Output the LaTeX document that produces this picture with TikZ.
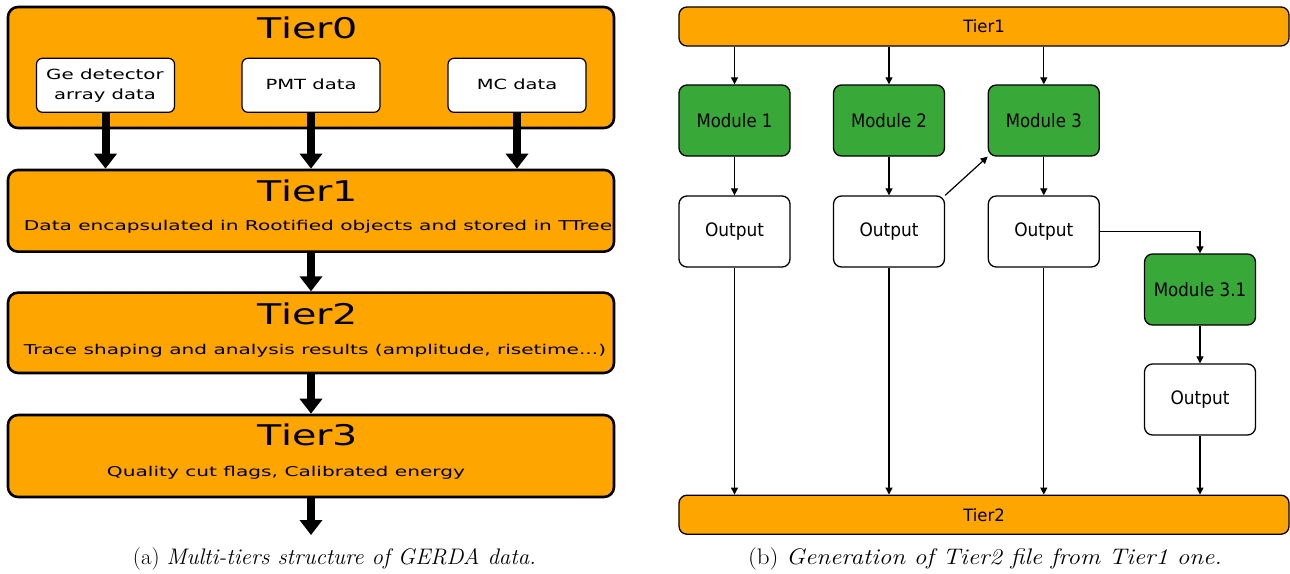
\documentclass[tikz,border=0pt]{standalone}
\usepackage{fontspec}
\usepackage{graphicx}
\usetikzlibrary{arrows.meta}
\newfontfamily\dvs{DejaVu Sans}
\definecolor{tierorange}{HTML}{FFA500}
\definecolor{modgreen}{HTML}{38A938}
\newcommand{\fitw}[2]{\resizebox{#1}{\height}{#2}}
\begin{document}
\begin{tikzpicture}[x=1pt,y=-1pt,
  tierbox/.style={draw=black, line width=2.6pt, fill=tierorange, rounded corners=10pt, minimum width=606pt, minimum height=81pt, inner sep=0pt},
  srcbox/.style={draw=black, line width=1.2pt, fill=white, rounded corners=6pt, minimum width=138pt, minimum height=54pt, inner sep=0pt},
  bigtitle/.style={anchor=base, inner sep=0pt, font=\dvs\fontsize{28.5pt}{30pt}\selectfont},
  subtext/.style={anchor=base, inner sep=0pt, font=\dvs\fontsize{13.5pt}{16pt}\selectfont},
  srctext/.style={anchor=base, inner sep=0pt, font=\dvs\fontsize{14pt}{16pt}\selectfont},
  bigarrow/.style={line width=8pt, -{Triangle[width=22pt,length=15pt]}},
  bar/.style={draw=black, line width=1.3pt, fill=tierorange, rounded corners=8pt, minimum width=610pt, minimum height=39pt, inner sep=0pt, font=\dvs\fontsize{17pt}{19pt}\selectfont},
  modbox/.style={draw=black, line width=1.3pt, fill=modgreen, rounded corners=8pt, minimum width=111pt, minimum height=71pt, inner sep=0pt, font=\dvs\fontsize{18.5pt}{20pt}\selectfont},
  outbox/.style={modbox, fill=white},
  flow/.style={line width=1.2pt, -{Triangle[width=7pt,length=7pt]}},
  captext/.style={anchor=base, inner sep=0pt, font=\fontsize{22.5pt}{26pt}\selectfont}
]
\useasboundingbox (0,0) rectangle (1290,573);

% ---------- left: multi-tier structure ----------
\node[tierbox, minimum height=121pt] (t0) at (311,67.5) {};
\node[bigtitle] (t0t) at (308,38.4) {\fitw{100pt}{Tier0}};
\node[srcbox] (ge) at (105.5,85.3) {};
\node[srctext] (get1) at (105,79) {\fitw{117.6pt}{Ge detector}};
\node[srctext] (get2) at (105,99) {\fitw{101.6pt}{array data}};
\node[srcbox] (pmt) at (311,85.3) {};
\node[srctext] (pmtt) at (311,89.3) {\fitw{91pt}{PMT data}};
\node[srcbox] (mc) at (517,85.3) {};
\node[srctext] (mct) at (517,89.3) {\fitw{80.5pt}{MC data}};

\node[tierbox, minimum height=81.7pt] (t1) at (311,210.8) {};
\node[bigtitle] (t1t) at (308,201.7) {\fitw{100pt}{Tier1}};
\node[subtext] (t1s) at (318,230.7) {\fitw{588pt}{Data encapsulated in Rootified objects and stored in TTree}};

\node[tierbox, minimum height=80.3pt] (t2) at (311,332.8) {};
\node[bigtitle] (t2t) at (308,324) {\fitw{100pt}{Tier2}};
\node[subtext] (t2s) at (315,354) {\fitw{582pt}{Trace shaping and analysis results (amplitude, risetime...)}};

\node[tierbox, minimum height=82pt] (t3) at (311,456) {};
\node[bigtitle] (t3t) at (308,445.7) {\fitw{100pt}{Tier3}};
\node[subtext] (t3s) at (286,476.7) {\fitw{358pt}{Quality cut flags, Calibrated energy}};

\coordinate (endA) at (311,535);

\draw[bigarrow] (ge.south) -- (ge.south |- t1.north);
\draw[bigarrow] (pmt.south) -- (pmt.south |- t1.north);
\draw[bigarrow] (mc.south) -- (mc.south |- t1.north);
\draw[bigarrow] (t1.south) -- (t2.north);
\draw[bigarrow] (t2.south) -- (t3.north);
\draw[bigarrow] (t3.south) -- (endA);

% ---------- right: Tier2 generation ----------
\node[bar] (r1) at (984,26.5) {\fitw{41.5pt}{Tier1}};
\node[modbox] (m1) at (734.5,120.5) {\fitw{76pt}{Module 1}};
\node[modbox] (m2) at (889,120.5) {\fitw{76pt}{Module 2}};
\node[modbox] (m3) at (1043.8,120.5) {\fitw{76pt}{Module 3}};
\node[outbox] (o1) at (734.5,231.5) {\fitw{59pt}{Output}};
\node[outbox] (o2) at (889,231.5) {\fitw{59pt}{Output}};
\node[outbox] (o3) at (1043.8,231.5) {\fitw{59pt}{Output}};
\node[modbox] (m31) at (1200,289.5) {\fitw{92.4pt}{Module 3.1}};
\node[outbox] (o31) at (1200,399.5) {\fitw{59pt}{Output}};
\node[bar] (r2) at (984,514.7) {\fitw{41.5pt}{Tier2}};

\draw[flow] (m1.north |- r1.south) -- (m1.north);
\draw[flow] (m2.north |- r1.south) -- (m2.north);
\draw[flow] (m3.north |- r1.south) -- (m3.north);
\draw[flow] (m1.south) -- (o1.north);
\draw[flow] (m2.south) -- (o2.north);
\draw[flow] (m3.south) -- (o3.north);
\draw[flow] (o2.north east) -- (m3.south west);
\draw[flow] (o3.east) -| (m31.north);
\draw[flow] (m31.south) -- (o31.north);
\draw[flow] (o1.south) -- (o1.south |- r2.north);
\draw[flow] (o2.south) -- (o2.south |- r2.north);
\draw[flow] (o3.south) -- (o3.south |- r2.north);
\draw[flow] (o31.south) -- (o31.south |- r2.north);

% ---------- captions ----------
\node[captext] (capa) at (334.5,564) {\fitw{403pt}{(a) \textit{Multi-tiers structure of GERDA data.}}};
\node[captext] (capb) at (985,564) {\fitw{474pt}{(b) \textit{Generation of Tier2 file from Tier1 one.}}};
\end{tikzpicture}
\end{document}
